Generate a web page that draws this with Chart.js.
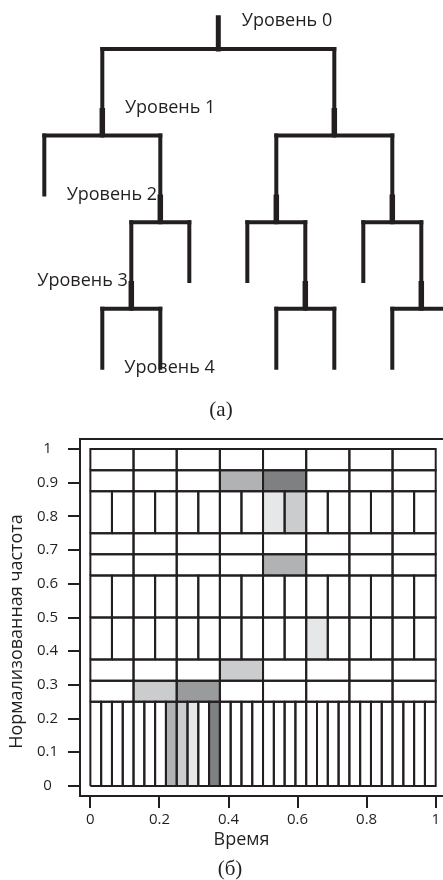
<!DOCTYPE html>
<html lang="ru">
<head>
<meta charset="utf-8">
<title>Дерево разложения и частотно-временная плоскость</title>
<script src="https://cdn.jsdelivr.net/npm/chart.js@4/dist/chart.umd.min.js"></script>
<style>
html,body{margin:0;padding:0;background:#fff;}
canvas{display:block;}
</style>
</head>
<body>
<canvas id="treeChart" width="443" height="420"></canvas>
<canvas id="tileChart" width="443" height="460"></canvas>
<script>
//======================================
// Data
//======================================

// decomposition tree: each node is a path of L/R splits from the root
const treeNodes = ["", "L", "R", "LL", "LR", "RL", "RR",
    "LRL", "LRR", "RLL", "RLR", "RRL", "RRR",
    "LRLL", "LRLR", "RLRL", "RLRR", "RRRL", "RRRR"];
const levelLabels = ["Уровень 0", "Уровень 1", "Уровень 2", "Уровень 3", "Уровень 4"];

// time-frequency tiling: frequency bands and number of time cells in each
const bandEdges = [0, 0.25, 0.3125, 0.375, 0.5, 0.625, 0.6875, 0.75, 0.875, 0.9375, 1];
const bandCells = [32, 8, 8, 16, 16, 8, 8, 16, 8, 8];

// shaded cells: band index, cell index, energy level (1 light .. 5 dark)
const shadeBand  = [0, 0, 0, 0, 1, 1, 2, 3, 5, 7, 7, 8, 8];
const shadeCell  = [7, 8, 9, 11, 1, 2, 3, 10, 4, 8, 9, 3, 4];
const shadeLevel = [3, 2, 1, 5, 2, 4, 2, 1, 3, 1, 2, 3, 5];

const xTickValues = [0, 0.2, 0.4, 0.6, 0.8, 1];
const xTickLabels = ["0", "0.2", "0.4", "0.6", "0.8", "1"];
const yTickValues = [0, 0.1, 0.2, 0.3, 0.4, 0.5, 0.6, 0.7, 0.8, 0.9, 1];
const yTickLabels = ["0", "0.1", "0.2", "0.3", "0.4", "0.5", "0.6", "0.7", "0.8", "0.9", "1"];

//======================================
// Style
//======================================

const INK = "#231f20";
const grays = ["#ffffff", "#e6e7e8", "#cbcccd", "#b1b2b4", "#9a9b9d", "#7f8082"];
const SANS = '"Open Sans", sans-serif';
const SERIF = '"Liberation Serif", serif';

Chart.defaults.font.family = SANS;
Chart.defaults.color = INK;

// draws free text (captions, labels) on a chart
const textMarks = {
    id: "textMarks",
    afterDraw(chart, args, opts) {
        const ctx = chart.ctx;
        (opts.items || []).forEach(t => {
            let x = t.x, y = t.y;
            if (t.data) {
                x = chart.scales.x.getPixelForValue(t.x);
                y = chart.scales.y.getPixelForValue(t.y);
            }
            ctx.save();
            ctx.font = t.font;
            ctx.fillStyle = INK;
            ctx.textAlign = t.align || "left";
            ctx.textBaseline = t.baseline || "alphabetic";
            ctx.translate(x, y);
            if (t.rotate) ctx.rotate(t.rotate);
            ctx.fillText(t.text, 0, 0);
            ctx.restore();
        });
    }
};

// top line of the plot box
const topFrame = {
    id: "topFrame",
    afterDraw(chart) {
        const {ctx, chartArea} = chart;
        ctx.save();
        ctx.strokeStyle = INK;
        ctx.lineWidth = 2;
        ctx.beginPath();
        ctx.moveTo(chartArea.left - 1, chartArea.top);
        ctx.lineTo(chart.width, chartArea.top);
        ctx.stroke();
        ctx.restore();
    }
};

//======================================
// (а) Tree
//======================================

const spread = [4, 2, 1, 1];
const leafGap = 0.32;

function nodeX(path) {
    let x = 0;
    for (let i = 0; i < path.length; i++) {
        x += (path[i] === "L" ? -1 : 1) * spread[i];
    }
    return x;
}

function hasChildren(path) {
    return treeNodes.includes(path + "L");
}

const treeSets = [];

function segment(x0, y0, x1, y1, w, cap) {
    treeSets.push({
        data: [{x: x0, y: y0}, {x: x1, y: y1}],
        showLine: true,
        borderColor: INK,
        borderWidth: w,
        borderCapStyle: cap || "square",
        pointRadius: 0
    });
}

treeNodes.forEach(p => {
    const d = p.length;
    const x = nodeX(p);
    const inner = hasChildren(p);
    if (d === 0) {
        segment(x, -0.36, x, 0, 5);
    } else {
        segment(x, d - 1, x, inner ? d : d - leafGap, 4);
        if (inner) segment(x, d - leafGap, x, d, 5.5, "butt");
    }
    if (inner) segment(nodeX(p + "L"), d, nodeX(p + "R"), d, 4);
});

const labelX = [0.81, -3.22, -5.23, -6.24, -3.24];

new Chart(document.getElementById("treeChart"), {
    type: "scatter",
    data: {datasets: treeSets},
    options: {
        responsive: false,
        animation: false,
        events: [],
        layout: {padding: 0},
        scales: {
            x: {type: "linear", display: false, min: -7.528, max: 7.748},
            y: {type: "linear", display: false, min: -0.566, max: 4.284, reverse: true}
        },
        plugins: {
            legend: {display: false},
            tooltip: {enabled: false},
            textMarks: {
                items: levelLabels.map((t, k) => ({
                    text: t, data: true, x: labelX[k], y: k - 0.26, font: "18px " + SANS
                })).concat([{
                    text: "(а)", x: 221, y: 410, align: "center", baseline: "middle", font: "21px " + SERIF
                }])
            }
        }
    },
    plugins: [textMarks]
});

//======================================
// (б) Time-frequency tiling
//======================================

const tileSets = [];

bandCells.forEach((n, b) => {
    const y0 = bandEdges[b];
    const y1 = bandEdges[b + 1];
    for (let c = 0; c < n; c++) {
        const x0 = c / n;
        const x1 = (c + 1) / n;
        let level = 0;
        shadeBand.forEach((sb, i) => {
            if (sb === b && shadeCell[i] === c) level = shadeLevel[i];
        });
        tileSets.push({
            data: [{x: x0, y: y0}, {x: x1, y: y0}, {x: x1, y: y1}, {x: x0, y: y1}, {x: x0, y: y0}],
            showLine: true,
            borderColor: INK,
            borderWidth: 2,
            borderJoinStyle: "miter",
            backgroundColor: grays[level],
            fill: level > 0 ? "shape" : false,
            pointRadius: 0
        });
    }
});

new Chart(document.getElementById("tileChart"), {
    type: "scatter",
    data: {datasets: tileSets},
    options: {
        responsive: false,
        animation: false,
        events: [],
        layout: {padding: {top: 5, left: 0, right: 0, bottom: 0}},
        scales: {
            x: {
                type: "linear",
                min: -0.03,
                max: 1.02,
                afterFit: s => { s.height = 84; },
                afterBuildTicks: s => { s.ticks = xTickValues.map(v => ({value: v})); },
                grid: {drawOnChartArea: false, drawTicks: true, tickLength: 12, color: INK, lineWidth: 2},
                border: {display: true, color: INK, width: 2},
                ticks: {
                    font: {size: 15},
                    padding: 3,
                    autoSkip: false,
                    maxRotation: 0,
                    callback: (v, i) => xTickLabels[i]
                }
            },
            y: {
                type: "linear",
                min: -0.03,
                max: 1.03,
                afterFit: s => { s.width = 80; },
                afterBuildTicks: s => { s.ticks = yTickValues.map(v => ({value: v})); },
                grid: {drawOnChartArea: false, drawTicks: true, tickLength: 12, color: INK, lineWidth: 2},
                border: {display: true, color: INK, width: 2},
                ticks: {
                    font: {size: 15},
                    padding: 10,
                    crossAlign: "center",
                    autoSkip: false,
                    callback: (v, i) => yTickLabels[i]
                }
            }
        },
        plugins: {
            legend: {display: false},
            tooltip: {enabled: false},
            filler: {drawTime: "beforeDatasetsDraw"},
            textMarks: {
                items: [
                    {text: "Нормализованная частота", x: 21.5, y: 211.5, align: "center", rotate: -Math.PI / 2, font: "18px " + SANS},
                    {text: "Время", x: 241.5, y: 425, align: "center", font: "18px " + SANS},
                    {text: "(б)", x: 230, y: 449, align: "center", baseline: "middle", font: "21px " + SERIF}
                ]
            }
        }
    },
    plugins: [textMarks, topFrame]
});
</script>
</body>
</html>
